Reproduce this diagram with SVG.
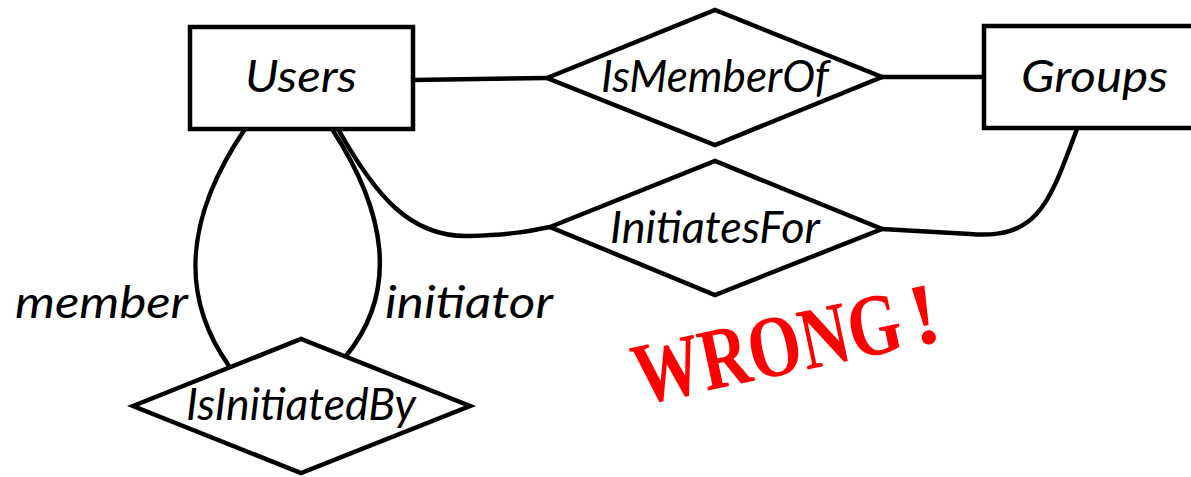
<svg xmlns="http://www.w3.org/2000/svg" width="1191" height="477" viewBox="0 0 1191 477">
<style>
.shape{fill:#fff;stroke:#000;stroke-width:4.5}
.conn{fill:none;stroke:#000;stroke-width:4.5}
.lbl{font-family:Lato,"Open Sans","Liberation Sans",sans-serif;font-style:italic;font-size:44px;fill:#000}
.wrong{font-family:"Liberation Serif","DejaVu Serif",serif;font-weight:bold;font-size:88px;fill:#ff0000}
</style>
<rect width="1191" height="477" fill="#fff"/>
<g id="connectors">
<path class="conn" d="M413,80 L548,78"/>
<path class="conn" d="M881,77 L984,77"/>
<path class="conn" d="M338,129 C375,195 410,238 470,236 C510,235 530,231 550,227"/>
<path class="conn" d="M1077,129 C1050,200 1040,240 970,234 C930,232 900,230 882,229"/>
<path class="conn" d="M245,129 C190,210 175,290 229,366"/>
<path class="conn" d="M332,129 C385,210 400,290 346,356"/>
</g>
<g id="users">
<rect class="shape" x="190" y="27" width="223" height="102"/>
<text class="lbl" x="245" y="92" textLength="112" lengthAdjust="spacingAndGlyphs">Users</text>
</g>
<g id="groups">
<rect class="shape" x="984" y="26" width="220" height="102"/>
<text class="lbl" x="1021" y="92" textLength="147" lengthAdjust="spacingAndGlyphs">Groups</text>
</g>
<g id="ismemberof">
<polygon class="shape" points="547,78 715,10 882,77 715,145"/>
<text class="lbl" x="601" y="92" textLength="228" lengthAdjust="spacingAndGlyphs">IsMemberOf</text>
</g>
<g id="initiatesfor">
<polygon class="shape" points="550,227 715,161 882,229 715,295"/>
<text class="lbl" x="610" y="243" textLength="210" lengthAdjust="spacingAndGlyphs">InitiatesFor</text>
</g>
<g id="isinitiatedby">
<polygon class="shape" points="133,406 301,339 470,406 301,473"/>
<text class="lbl" x="186" y="420" textLength="230" lengthAdjust="spacingAndGlyphs">IsInitiatedBy</text>
</g>
<g id="labels">
<text class="lbl" x="15" y="318" textLength="173" lengthAdjust="spacingAndGlyphs">member</text>
<text class="lbl" x="385" y="318" textLength="168" lengthAdjust="spacingAndGlyphs">initiator</text>
</g>
<g id="wrong" transform="rotate(-12 640 405)">
<text class="wrong" x="640" y="405" textLength="272" lengthAdjust="spacingAndGlyphs">WRONG</text>
<text class="wrong" x="922" y="405">!</text>
</g>
</svg>
